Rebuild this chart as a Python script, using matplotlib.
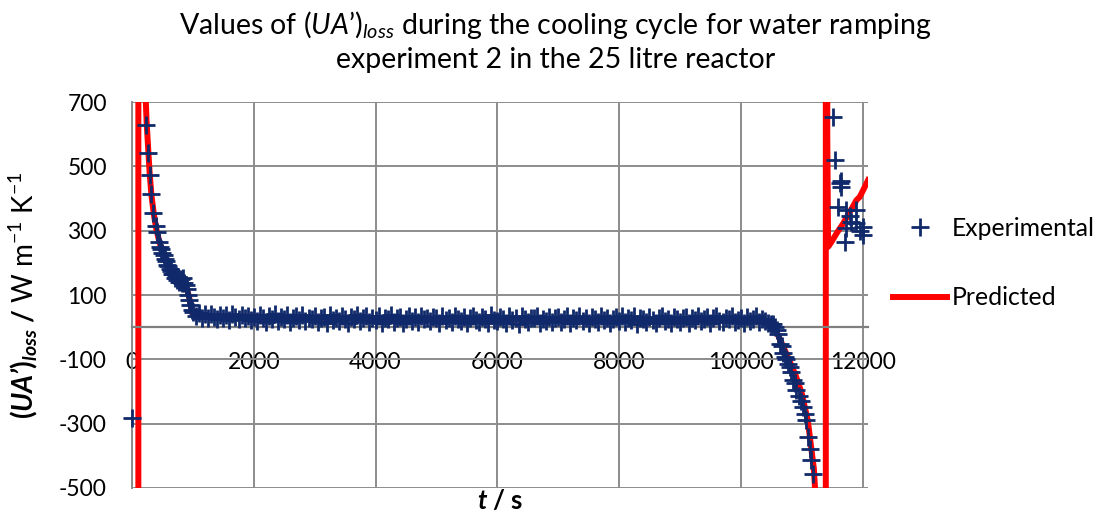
import numpy as np
import matplotlib
matplotlib.use("Agg")
import matplotlib.pyplot as plt

plt.rcParams['font.family'] = ['Lato', 'DejaVu Sans']
plt.rcParams['mathtext.fontset'] = 'custom'
plt.rcParams['mathtext.rm'] = 'Lato'
plt.rcParams['mathtext.it'] = 'Lato:italic'
plt.rcParams['mathtext.bf'] = 'Lato:bold'
if 'mathtext.bfit' in plt.rcParams:
    plt.rcParams['mathtext.bfit'] = 'Lato:bold:italic'
plt.rcParams['axes.unicode_minus'] = False

# experimental (UA')loss, start of cooling
exp_t_start = [0, 225, 268, 290, 312, 350, 389, 416, 440, 460, 480, 500, 520, 540,
               560, 580, 600, 620, 640, 660, 680, 700, 720, 740, 760, 780, 800,
               820, 840, 860, 880, 900, 920, 940, 960, 980]
exp_v_start = [-283, 628, 540, 472, 413, 355, 315, 296, 266, 248, 242, 230, 224, 212,
               206, 194, 190, 180, 176, 166, 164, 154, 158, 146, 156, 140, 150,
               138, 152, 136, 130, 118, 100, 84, 68, 52]

# plateau, sampled every 50 s from 1000 s to 10500 s
exp_t_plateau = np.arange(1000, 10550, 50)
exp_v_plateau = [48, 36, 44, 30, 40, 27, 42, 33, 24, 39, 29, 37, 22, 41, 31, 25, 38, 28, 35, 21,
                 33, 20, 38, 27, 16, 35, 24, 40, 19, 31, 26, 37, 15, 29, 34, 22, 39, 18, 30, 25,
                 36, 17, 28, 33, 14, 38, 23, 30, 19, 35, 26, 12, 32, 24, 37, 18, 29, 34, 16, 27,
                 22, 35, 14, 30, 26, 37, 17, 28, 33, 13, 25, 36, 20, 31, 15, 34, 24, 29, 18, 32,
                 27, 12, 34, 21, 30, 16, 36, 25, 19, 33, 14, 28, 35, 22, 17, 31, 26, 13, 37, 23,
                 18, 32, 25, 14, 36, 21, 29, 11, 34, 24, 16, 30, 27, 35, 13, 26, 20, 33, 15, 28,
                 31, 17, 24, 36, 12, 29, 22, 34, 19, 27, 14, 33, 25, 16, 35, 21, 30, 13, 26, 32,
                 20, 34, 15, 28, 23, 36, 11, 30, 25, 17, 33, 22, 14, 29, 35, 19, 26, 12, 31, 24,
                 16, 29, 33, 13, 27, 21, 35, 18, 24, 31, 12, 28, 34, 20, 15, 30, 25, 36, 17, 23,
                 28, 14, 32, 19, 26, 34, 15, 24, 20, 12, 10]

# drop at the end of the plateau and scatter after the heater switch
exp_t_end = [10530, 10560, 10590, 10612, 10640, 10670, 10700, 10722, 10750, 10780,
             10804, 10830, 10858, 10885, 10913, 10950, 10990, 11023, 11050, 11078,
             11105, 11130, 11160, 11187,
             11515, 11544, 11598, 11626, 11653, 11640, 11708, 11735, 11735, 11790,
             11817, 11900, 11900, 11950, 12007, 12007]
exp_v_end = [11, 0, -10, -20, -51, -60, -80, -92, -100, -115,
             -123, -140, -165, -175, -196, -215, -230, -248, -270, -289,
             -341, -380, -413, -455,
             654, 519, 374, 447, 436, 455, 265, 307, 364, 345,
             327, 364, 323, 300, 312, 286]

# predicted (UA')loss
pred_t = [60, 104, 106, 180, 215, 240, 268, 290, 320, 360, 400, 450, 520, 600,
          700, 800, 860, 900, 940, 970, 1000, 1100, 1500, 2000, 4000, 6000, 8000,
          10000, 10400, 10500, 10600, 10700, 10800, 10900, 11000, 11100, 11200,
          11250, 11350, 11394, 11398, 11420, 11434, 11489, 11571, 11680, 11790,
          11900, 11954, 12036, 12090]
pred_v = [-20000, -100000, 100000, 1500, 760, 640, 550, 480, 410, 350, 305, 265, 225, 190,
          162, 148, 140, 122, 92, 62, 42, 36, 34, 32, 28, 25, 23,
          21, 17, 8, -20, -62, -105, -150, -205, -290, -440,
          -600, -2000, -100000, 100000, 600, 250, 265, 291, 322, 358,
          395, 405, 436, 457]

exp_t = list(exp_t_start) + list(exp_t_plateau) + list(exp_t_end)
exp_v = list(exp_v_start) + list(exp_v_plateau) + list(exp_v_end)

navy = '#10296b'
grid_grey = '#8c8c8c'

fig = plt.figure(figsize=(10.97, 5.17), dpi=100)
ax = fig.add_axes([0.1203, 0.0561, 0.6710, 0.7466])

ax.plot(pred_t, pred_v, color='#ff0000', lw=4.3, label='Predicted', zorder=2,
        solid_joinstyle='round')
ax.plot(exp_t, exp_v, ls='none', marker='+', ms=12.5, mew=2.0, color=navy,
        label='Experimental', zorder=3, clip_on=False)

ax.set_xlim(0, 12090)
ax.set_ylim(-500, 700)
ax.set_xticks(range(0, 12001, 2000))
ax.set_yticks(range(-500, 701, 200))
ax.grid(True, color=grid_grey, lw=1.4)
ax.set_axisbelow(True)

for side in ['top', 'right']:
    ax.spines[side].set_visible(False)
ax.spines['bottom'].set_position(('data', 0))
ax.spines['bottom'].set_color('#7f7f7f')
ax.spines['bottom'].set_linewidth(1.6)
ax.spines['left'].set_color(grid_grey)
ax.spines['left'].set_linewidth(1.4)
ax.tick_params(axis='both', length=0, labelsize=16.5, colors='black')
ax.tick_params(axis='x', pad=18)
ax.tick_params(axis='y', pad=18)

ax.set_ylabel("$\\mathbf{(}\\mathbfit{UA\u2019}\\mathbf{)}_{\\mathbfit{loss}}$ / "
              "$\\mathrm{W\\ m^{-1}\\ K^{-1}}$", fontsize=20, fontweight='bold')
ax.yaxis.set_label_coords(-0.125, 0.5)
ax.text(0.5, -0.032, r"$\mathbfit{t}$ / s", transform=ax.transAxes, ha='center', va='center',
        fontsize=18.5, fontweight='bold')

fig.text(0.506, 0.952, "Values of $(\\mathit{UA\u2019})_{\\mathit{loss}}$ during the cooling cycle for water ramping",
         ha='center', va='center', fontsize=20.5)
fig.text(0.506, 0.883, "experiment 2 in the 25 litre reactor", ha='center', va='center', fontsize=20.5)

handles, labels = ax.get_legend_handles_labels()
fig.legend(handles[::-1], labels[::-1], loc='center left', bbox_to_anchor=(0.805, 0.491),
           frameon=False, fontsize=17.8, handlelength=2.2, handletextpad=0.16,
           labelspacing=1.87, borderaxespad=0)

fig.savefig('out.png', dpi=100)
